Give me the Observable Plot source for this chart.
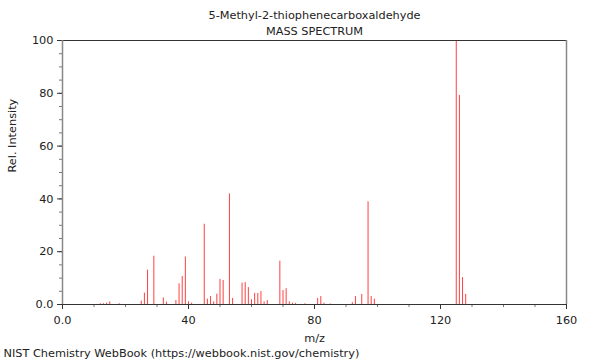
<!DOCTYPE html>
<html>
<head>
<meta charset="utf-8">
<script src="https://cdn.jsdelivr.net/npm/d3@7"></script>
<script src="https://cdn.jsdelivr.net/npm/@observablehq/plot@0.6"></script>
<style>
  html, body { margin: 0; padding: 0; background: #fff; }
  svg { display: block; }
</style>
</head>
<body>
<div id="chart"></div>
<script>
const title = "5-Methyl-2-thiophenecarboxaldehyde";
const subtitle = "MASS SPECTRUM";
const caption = "NIST Chemistry WebBook (https://webbook.nist.gov/chemistry)";
const xLabel = "m/z";
const yLabel = "Rel. Intensity";

const mz = [12, 13, 14, 15, 18, 25, 26, 27, 29, 32, 33, 36, 37, 38, 39, 40,
  41, 45, 46, 47, 48, 49, 50, 51, 53, 54, 57, 58, 59, 60, 61, 62, 63, 64, 65,
  69, 70, 71, 72, 73, 74, 77, 81, 82, 83, 85, 92, 93, 95, 97, 98, 99,
  125, 126, 127, 128];
const intensity = [0.3, 0.3, 0.5, 1.0, 0.3, 1.3, 4.3, 13, 18.3, 2.5, 0.9, 1.5, 7.8, 10.6, 18, 1.0,
  0.5, 30.4, 2, 3, 1, 3.9, 9.5, 9.1, 41.9, 2.3, 8.1, 8.3, 6.4, 1.8, 4.2, 4.2, 4.9, 1, 1.5,
  16.4, 5.3, 6, 1, 0.5, 0.4, 0.3, 2.3, 3, 0.5, 0.2, 0.7, 3, 3.8, 38.9, 3, 2,
  100, 79.2, 10.2, 3.8];

const xMajor = [0, 40, 80, 120, 160];
const xMinor = d3.range(0, 161, 10);
const yMajor = [0, 20, 40, 60, 80, 100];
const yMinor = d3.range(0, 101, 5);

const data = mz.map((m, i) => ({mz: m, value: intensity[i]}));
const fmt = d => d === 0 ? "0.0" : String(d);
const fs = 11.3;

const chart = Plot.plot({
  width: 600,
  height: 360,
  marginTop: 40,
  marginLeft: 62,
  marginRight: 34,
  marginBottom: 56,
  style: {fontFamily: "DejaVu Sans", fontSize: fs + "px", background: "#fff", color: "#222"},
  x: {domain: [0, 160]},
  y: {domain: [0, 100]},
  marks: [
    Plot.ruleX(data, {x: "mz", y1: 0, y2: "value", stroke: "#ff4040", strokeWidth: 1}),
    Plot.axisX(xMinor, {tickSize: 3, text: null, stroke: "#777", label: null}),
    Plot.axisX(xMajor, {tickSize: 5, tickPadding: 6, tickFormat: fmt, stroke: "#333", fill: "#222", fontSize: fs, label: null}),
    Plot.axisY(yMinor, {tickSize: 3, text: null, stroke: "#777", label: null}),
    Plot.axisY(yMajor, {tickSize: 5, tickPadding: 4, tickFormat: fmt, stroke: "#333", fill: "#222", fontSize: fs, label: null}),
    Plot.ruleY([100], {stroke: "#333", strokeWidth: 1}),
    Plot.ruleX([160], {stroke: "#888", strokeWidth: 1.5}),
    Plot.ruleX([0], {stroke: "#888", strokeWidth: 1.5}),
    Plot.ruleY([0], {stroke: "#333", strokeWidth: 1}),
    Plot.text([title], {frameAnchor: "top", dy: -30, fontSize: fs, fill: "#222"}),
    Plot.text([subtitle], {frameAnchor: "top", dy: -14, fontSize: fs, fill: "#222"}),
    Plot.text([xLabel], {frameAnchor: "bottom", dy: 37, fontSize: fs, fill: "#222"}),
    Plot.text([yLabel], {frameAnchor: "left", dx: -50, rotate: -90, fontSize: fs, fill: "#222"}),
    Plot.text([caption], {frameAnchor: "bottom-left", textAnchor: "start", dx: -59, dy: 52, fontSize: fs, fill: "#222"})
  ]
});
document.getElementById("chart").appendChild(chart);
</script>
</body>
</html>
